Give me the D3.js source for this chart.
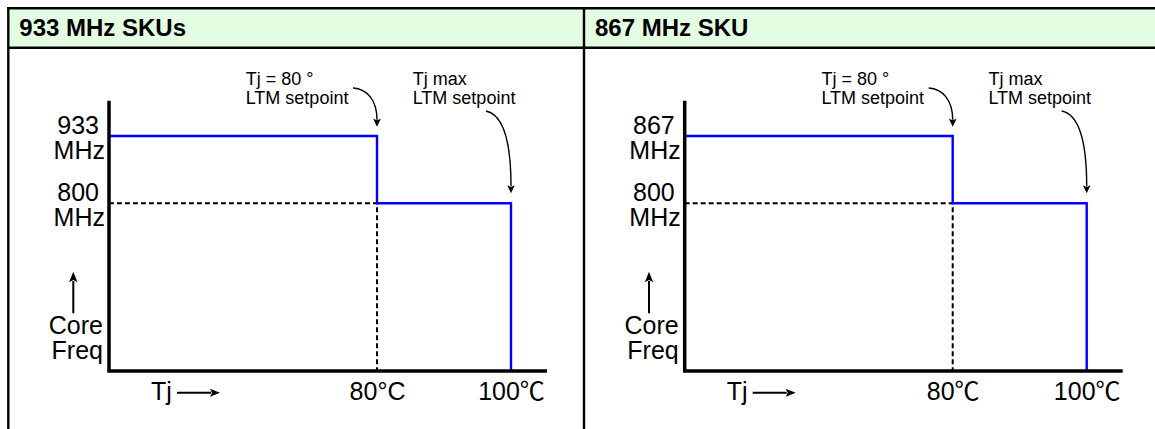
<!DOCTYPE html>
<html>
<head>
<meta charset="utf-8">
<script src="https://cdn.jsdelivr.net/npm/d3@7"></script>
<style>
  html, body { margin: 0; padding: 0; background: #fff; }
  svg { display: block; }
  text { font-family: 'Liberation Sans', Arial, 'Noto Sans CJK JP', sans-serif; fill: #000; }
</style>
</head>
<body>
<svg id="chart" width="1155" height="429"></svg>
<script>
// ---------------- data ----------------
const panelTitles = ["933 MHz SKUs", "867 MHz SKU"];
const maxFreqs = [933, 867];          // MHz, full-speed core frequency per SKU
const throttleFreq = 800;             // MHz, frequency after first LTM step
const setpointTemps = [80, 100];      // °C : Tj = 80° LTM setpoint, Tj max LTM setpoint
const tempTickLabels = [["80°C", "100℃"], ["80℃", "100℃"]];
const setpointNotes = [["Tj = 80 °", "LTM setpoint"], ["Tj max", "LTM setpoint"]];
const freqUnit = "MHz";
const yAxisTitle = ["Core", "Freq"];
const xAxisTitle = "Tj";

// ---------------- layout ----------------
const W = 1155, H = 429;
const svg = d3.select("#chart");
svg.append("rect").attr("width", W).attr("height", H).attr("fill", "#fff");

const frameTop = 8.2, frameLeft = 8.3, headerBottom = 47.8, panelWidth = 576;
const panelLefts = [frameLeft, frameLeft + panelWidth - 0.3];

// header band
svg.append("rect").attr("x", frameLeft).attr("y", frameTop)
  .attr("width", W - frameLeft).attr("height", headerBottom - frameTop)
  .attr("fill", "#e3fde3");

const frame = svg.append("g").attr("stroke", "#000").attr("stroke-width", 2.4).attr("fill", "none");
frame.append("line").attr("x1", frameLeft - 1.2).attr("x2", W).attr("y1", frameTop).attr("y2", frameTop);
frame.append("line").attr("x1", frameLeft).attr("x2", W).attr("y1", headerBottom).attr("y2", headerBottom);
panelLefts.forEach(px => {
  frame.append("line").attr("x1", px).attr("x2", px).attr("y1", frameTop - 1.2).attr("y2", H);
});

// arrowhead helper
function arrowHead(g, x, y, angleDeg, len, halfW) {
  g.append("path")
    .attr("d", `M0,0 L${-len},${-halfW} L${-len * 0.8},0 L${-len},${halfW} Z`)
    .attr("transform", `translate(${x},${y}) rotate(${angleDeg})`)
    .attr("fill", "#000");
}

panelTitles.forEach((title, p) => {
  const left = panelLefts[p];
  const ox = left + 100.7;                 // plot origin x (y-axis)
  const g = svg.append("g");

  // title
  g.append("text").attr("x", left + 11).attr("y", 35.5)
    .attr("font-size", 24).attr("font-weight", "bold").text(title);

  const fmax = maxFreqs[p];
  const x = d3.scaleLinear()
    .domain([0, setpointTemps[0], setpointTemps[1], 105.4])
    .range([ox, ox + 268, ox + 402, ox + 438]);
  const y = d3.scaleLinear()
    .domain([0, throttleFreq, fmax])
    .range([371, 203.3, 136]);
  const yTop = y(fmax) - 35.3;
  const y0 = y(0);

  // dashed guide lines
  g.append("path")
    .attr("d", d3.line()([[x(0), y(throttleFreq)], [x(setpointTemps[0]), y(throttleFreq)], [x(setpointTemps[0]), y0]]))
    .attr("fill", "none").attr("stroke", "#000").attr("stroke-width", 2)
    .attr("stroke-dasharray", "5,3");

  // frequency step line
  const stepPts = [
    [x(0), y(fmax)],
    [x(setpointTemps[0]), y(fmax)],
    [x(setpointTemps[0]), y(throttleFreq)],
    [x(setpointTemps[1]), y(throttleFreq)],
    [x(setpointTemps[1]), y0]
  ];
  g.append("path").attr("d", d3.line()(stepPts))
    .attr("fill", "none").attr("stroke", "#0000ff").attr("stroke-width", 2.4)
    .attr("stroke-linejoin", "miter");

  // axes lines (L shape)
  g.append("path")
    .attr("d", `M${x(0)},${yTop} V${y0} H${x.range()[3]}`)
    .attr("fill", "none").attr("stroke", "#000").attr("stroke-width", 3.5)
    .attr("stroke-linejoin", "miter");

  // x tick labels via axis
  const xAxis = d3.axisBottom(x).tickValues(setpointTemps).tickSize(0).tickSizeOuter(0)
    .tickFormat((d, i) => "");
  const xg = g.append("g").attr("transform", `translate(0,${y0})`).call(xAxis);
  xg.select(".domain").remove();
  xg.attr("font-family", null).attr("font-size", null);
  xg.selectAll(".tick text").each(function (d, i) {
    const t = d3.select(this).attr("y", 29).attr("dy", null).attr("font-size", 25)
      .attr("text-anchor", "middle").attr("fill", "#000");
    const lab = tempTickLabels[p][i];
    const parts = lab.split("℃");
    t.append("tspan").text(parts[0]);
    if (lab.includes("℃")) t.append("tspan").attr("font-family", "'Noto Sans CJK JP'").text("℃");
  });

  // y tick labels via axis
  const yAxis = d3.axisLeft(y).tickValues([throttleFreq, fmax]).tickSize(0).tickSizeOuter(0)
    .tickFormat(() => "");
  const yg = g.append("g").attr("transform", `translate(${ox},0)`).call(yAxis);
  yg.select(".domain").remove();
  yg.attr("font-family", null).attr("font-size", null);
  yg.selectAll(".tick text").each(function (d) {
    const t = d3.select(this).attr("dy", null).attr("x", null).attr("font-size", 25)
      .attr("text-anchor", "end").attr("fill", "#000");
    t.append("tspan").attr("x", -10).attr("y", -3).text(d);
    t.append("tspan").attr("x", -4).attr("y", 22).text(freqUnit);
  });

  // y axis title with up arrow
  const ax = ox - 35.7;
  g.append("line").attr("x1", ax).attr("x2", ax).attr("y1", 313.3).attr("y2", 281)
    .attr("stroke", "#000").attr("stroke-width", 2);
  arrowHead(g, ax, 271.7, -90, 10.5, 4.2);
  yAxisTitle.forEach((s, i) => {
    g.append("text").attr("x", ox - 6).attr("y", 334 + i * 25).attr("text-anchor", "end")
      .attr("font-size", 25).text(s);
  });

  // x axis title with right arrow
  g.append("text").attr("x", ox + 42).attr("y", 400).attr("font-size", 25).text(xAxisTitle);
  g.append("line").attr("x1", ox + 68).attr("x2", ox + 102).attr("y1", 392.7).attr("y2", 392.7)
    .attr("stroke", "#000").attr("stroke-width", 2);
  arrowHead(g, ox + 111, 392.7, 0, 10, 4);

  // setpoint annotations
  const notesX = [x(setpointTemps[0]) - 131.3, x(setpointTemps[1]) - 98.3];
  setpointNotes.forEach((lines, i) => {
    const t = g.append("text").attr("font-size", 18);
    lines.forEach((s, j) => {
      t.append("tspan").attr("x", notesX[i]).attr("y", 85 + j * 19).text(s);
    });
  });

  // curved arrows to the setpoints
  const xa = x(setpointTemps[0]), xb = x(setpointTemps[1]);
  const tipA = y(fmax) - 9.3, tipB = y(throttleFreq) - 10;
  g.append("path")
    .attr("d", `M${xa - 24},88 C${xa - 10},89 ${xa},100 ${xa},${tipA - 7}`)
    .attr("fill", "none").attr("stroke", "#000").attr("stroke-width", 1.4);
  arrowHead(g, xa, tipA, 90, 8, 3.8);
  g.append("path")
    .attr("d", `M${xb - 25},111 C${xb - 10},114 ${xb},135 ${xb},${tipB - 7}`)
    .attr("fill", "none").attr("stroke", "#000").attr("stroke-width", 1.4);
  arrowHead(g, xb, tipB, 90, 8, 3.8);
});
</script>
</body>
</html>
